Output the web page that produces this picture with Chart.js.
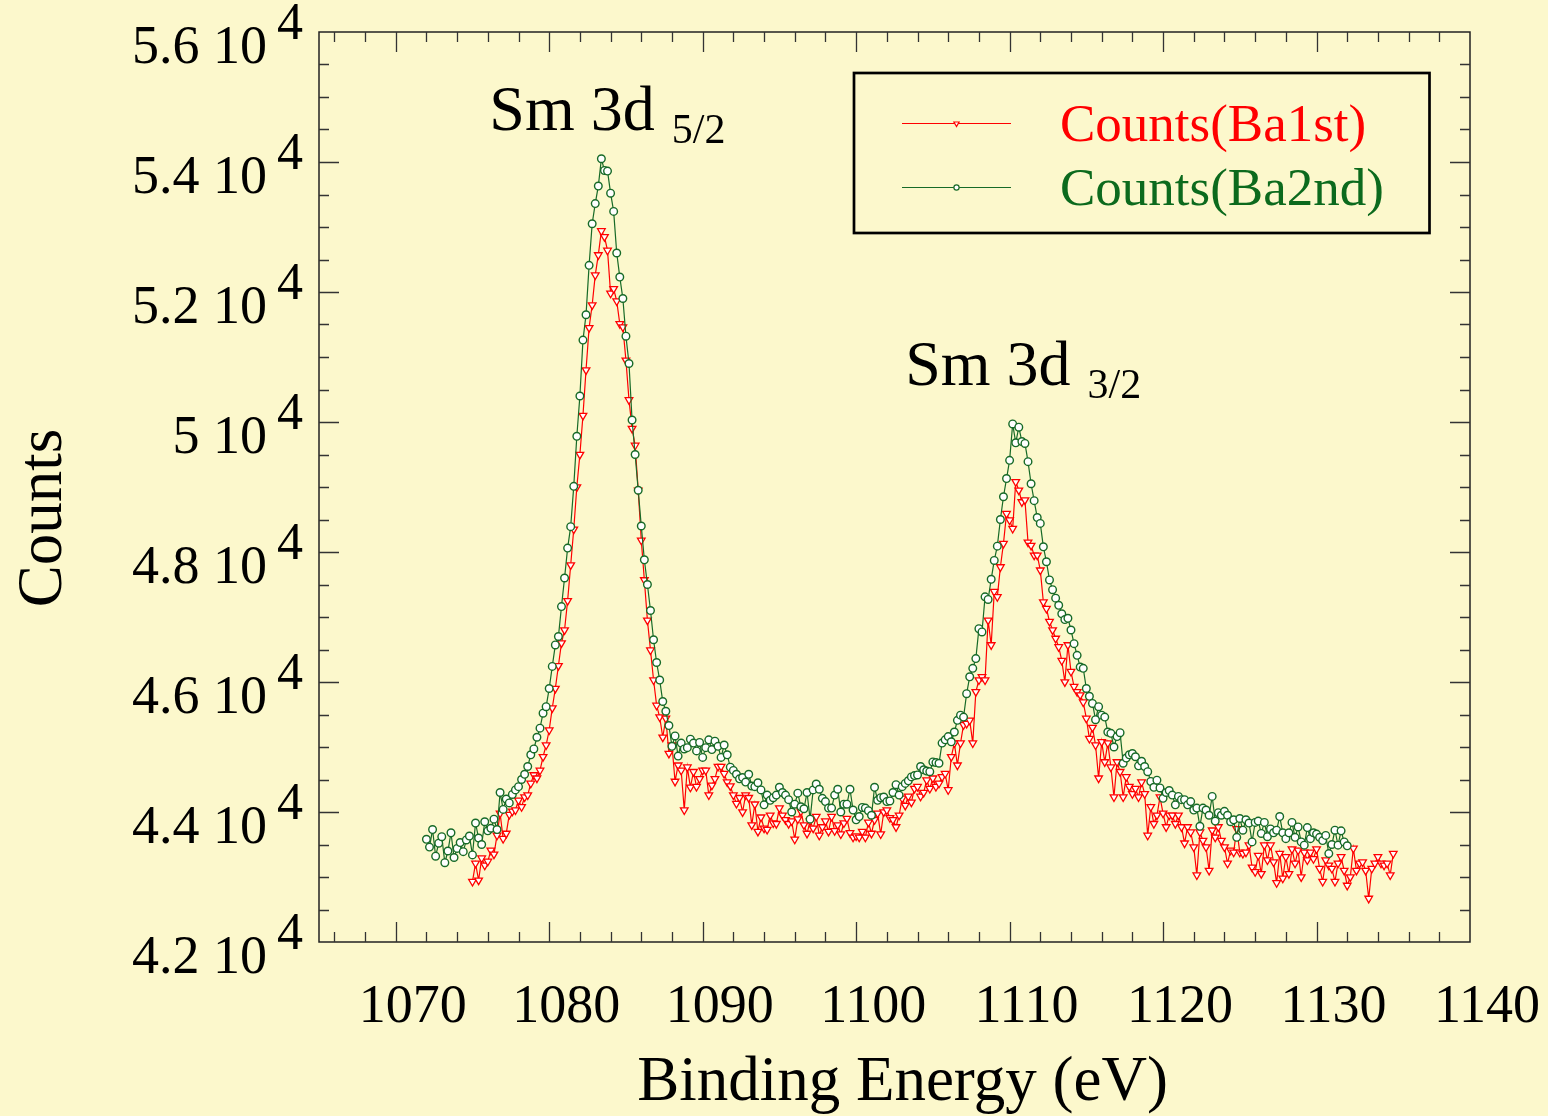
<!DOCTYPE html>
<html>
<head>
<meta charset="utf-8">
<title>Sm 3d XPS</title>
<script src="https://cdn.jsdelivr.net/npm/chart.js@4.4.1/dist/chart.umd.min.js"></script>
<style>
html, body { margin: 0; padding: 0; background: #fcf8cc; }
#wrap { width: 1548px; height: 1116px; }
</style>
</head>
<body>
<div id="wrap"><canvas id="chart" width="1548" height="1116"></canvas></div>
<script>
// energy grid of the two scans (eV)
var ba1stStart = 1075.0;
var ba2ndStart = 1072.0;
var stepEV = 0.2;

// Counts(Ba1st), 1075.0 .. 1135.0 eV
var countsBa1st = [
    42930, 43210, 42950, 43290, 43180, 43240, 43410, 43350, 43640, 43980,
    43590, 43670, 43960, 44010, 44030, 44180, 44080, 44230, 44260, 44440,
    44570, 44520, 44640, 44850, 45030, 45260, 45600, 45900, 46250, 46600,
    46800, 47250, 47800, 48350, 49000, 49500, 50100, 50800, 51450, 51800,
    52260, 52570, 52940, 52850, 52640, 51980, 52050, 51860, 51510, 51460,
    50950, 50340, 49900, 49640, 48950, 48180, 47570, 46950, 46490, 46030,
    45640, 45460, 45150, 45440, 44900, 45030, 44470, 44720, 44640, 44030,
    44690, 44380, 44620, 44390, 44510, 44640, 44640, 44260, 44410, 44510,
    44700, 44700, 44590, 44460, 44400, 44260, 44130, 44220, 44000, 44260,
    44220, 43800, 44120, 43700, 43920, 43750, 43730, 43950, 43830, 43820,
    44060, 43950, 43880, 43820, 43860, 43580, 43890, 44010, 43800, 43670,
    43860, 43750, 43930, 43640, 43770, 43860, 43700, 43930, 43710, 43800,
    43660, 43830, 43900, 43680, 43610, 43630, 43610, 43700, 43610, 43840,
    43670, 43880, 43980, 43660, 44000, 44030, 43910, 43880, 43770, 43950,
    44210, 44100, 44240, 44150, 44360, 44390, 44240, 44300, 44490, 44360,
    44520, 44390, 44440, 44540, 44590, 44340, 44850, 45060, 44720, 45060,
    45340, 45360, 45410, 45060, 45850, 46030, 46080, 46030, 46950, 46570,
    47390, 47310, 47770, 48130, 48590, 48490, 48360, 49080, 48950, 48770,
    48800, 48150, 48100, 47950, 47950, 47720, 47230, 47130, 46930, 46800,
    46670, 46540, 46330, 46000, 46570, 46160, 45930, 45850, 45800, 45690,
    45440, 45130, 45300, 45030, 44520, 45080, 44770, 45060, 44690, 44230,
    44770, 44620, 44230, 44540, 44390, 44280, 44360, 44230, 44460, 44280,
    43640, 44080, 43820, 43950, 44230, 43980, 43770, 43950, 43950, 43820,
    43950, 43770, 43520, 43770, 43690, 43460, 43030, 43690, 43560, 43460,
    43100, 43720, 43610, 43770, 43560, 43460, 43210, 43410, 43380, 43740,
    43380, 43360, 43380, 43490, 43150, 43080, 43330, 43050, 43490, 43260,
    43490, 43230, 42910, 43360, 42980, 43310, 43050, 43430, 43210, 43410,
    43000, 43380, 43260, 43380, 43280, 43430, 43130, 42930, 43260, 43180,
    43130, 42930, 43210, 43310, 43100, 42870, 43000, 43440, 43100, 43210,
    43230, 43100, 42670, 43130, 43210, 43310, 43210, 43180, 43210, 43030,
    43360
];

// Counts(Ba2nd), 1072.0 .. 1132.0 eV
var countsBa2nd = [
    43580, 43460, 43730, 43320, 43520, 43620, 43220, 43400, 43680, 43300,
    43440, 43530, 43390, 43570, 43630, 43340, 43830, 43600, 43500, 43850,
    43710, 43750, 43890, 43730, 44300, 44040, 44200, 44140, 44270, 44340,
    44390, 44500, 44580, 44700, 44880, 44970, 45150, 45290, 45520, 45620,
    45900, 46240, 46570, 46700, 47160, 47600, 48060, 48390, 49010, 49780,
    50400, 51260, 51650, 52410, 53050, 53360, 53630, 54050, 53870, 53860,
    53520, 53240, 52600, 52230, 51900, 51320, 50900, 50030, 49500, 48950,
    48400, 47880, 47500, 47100, 46650, 46300, 46030, 45700, 45550, 45330,
    45010, 45170, 44860, 45060, 44970, 44990, 45120, 45060, 44940, 45070,
    44840, 44990, 45110, 44960, 45090, 45010, 44840, 45030, 44880, 44690,
    44640, 44580, 44510, 44530, 44460, 44580, 44400, 44390, 44450, 44340,
    44110, 44260, 44180, 44220, 44260, 44380, 44300, 44260, 44190, 44000,
    44120, 44290, 44080, 44050, 44300, 43890, 44340, 44430, 44350, 44210,
    44160, 44060, 44060, 44260, 44350, 44000, 44120, 44120, 44350, 44030,
    43880, 43930, 44070, 44060, 44020, 43950, 44380, 44180, 44220, 44230,
    44160, 44170, 44300, 44420, 44260, 44390, 44440, 44480, 44540, 44560,
    44570, 44700, 44650, 44630, 44620, 44770, 44760, 44750, 45060, 45110,
    45160, 45080, 45230, 45410, 45490, 45460, 45820, 46080, 46210, 46360,
    46820, 46770, 47310, 47270, 47580, 47870, 48090, 48500, 48850, 49130,
    49410, 49970, 49680, 49920, 49700, 49670, 49390, 49050, 48790, 48530,
    48440, 48080, 47850, 47570, 47420, 47290, 47180, 47050, 46960, 46980,
    46800, 46590, 46410, 46230, 46210, 45900, 45780, 45670, 45420, 45620,
    45490, 45460, 45230, 45210, 45000, 45160, 45220, 44750, 44830, 44880,
    44900, 44850, 44710, 44780, 44700, 44620, 44470, 44380, 44490, 44370,
    44210, 44300, 44330, 44260, 44110, 44240, 44190, 44190, 44110, 44160,
    44030, 44060, 43780, 44060, 44030, 43950, 44240, 43860, 43990, 43950,
    44010, 43950, 43850, 43880, 43610, 43900, 43720, 43880, 43830, 43540,
    43840, 43860, 43670, 43840, 43620, 43740, 43680, 43720, 43930, 43680,
    43590, 43680, 43840, 43610, 43770, 43540, 43490, 43760, 43590, 43680,
    43660, 43610, 43560, 43640, 43360, 43500, 43720, 43490, 43710, 43540,
    43480
];

var seriesNames = ['Counts(Ba1st)', 'Counts(Ba2nd)'];
var xTicks = [1070, 1080, 1090, 1100, 1110, 1120, 1130, 1140];
var xTickLabels = ['1070', '1080', '1090', '1100', '1110', '1120', '1130', '1140'];
var yTicks = [42000, 44000, 46000, 48000, 50000, 52000, 54000, 56000];
var yTickLabels = ['4.2 10', '4.4 10', '4.6 10', '4.8 10', '5 10', '5.2 10', '5.4 10', '5.6 10'];
var yTickExponent = '4';
var peakNames = ['Sm 3d', 'Sm 3d'];
var peakSubs = ['5/2', '3/2'];

function toPoints(start, values) {
    return values.map(function(v, i) {
        return { x: Math.round((start + i * stepEV) * 10) / 10, y: v };
    });
}

var SERIF = '"Liberation Serif", "Times New Roman", serif';
var RED = '#ff0000';
var GREEN = '#176a27';

var decorPlugin = {
    id: 'decor',
    beforeDraw: function(chart) {
        var ctx = chart.ctx;
        ctx.save();
        ctx.fillStyle = '#fcf8cc';
        ctx.fillRect(0, 0, chart.width, chart.height);
        ctx.restore();
    },
    afterDraw: function(chart) {
        var ctx = chart.ctx;
        var a = chart.chartArea;
        var xs = chart.scales.x;
        var ys = chart.scales.y;
        var v, p, len;
        ctx.save();

        // frame
        ctx.strokeStyle = '#222';
        ctx.lineWidth = 1.5;
        ctx.strokeRect(a.left, a.top, a.right - a.left, a.bottom - a.top);

        // inward ticks on all four sides
        ctx.lineWidth = 1.3;
        ctx.strokeStyle = '#333';
        ctx.beginPath();
        for (v = 1066; v <= 1138; v += 2) {
            p = Math.round(xs.getPixelForValue(v)) + 0.5;
            len = v % 10 === 0 ? 20 : 10;
            ctx.moveTo(p, a.bottom); ctx.lineTo(p, a.bottom - len);
            ctx.moveTo(p, a.top); ctx.lineTo(p, a.top + len);
        }
        for (v = 42500; v <= 55500; v += 500) {
            p = Math.round(ys.getPixelForValue(v)) + 0.5;
            len = v % 2000 === 0 ? 20 : 10;
            ctx.moveTo(a.left, p); ctx.lineTo(a.left + len, p);
            ctx.moveTo(a.right, p); ctx.lineTo(a.right - len, p);
        }
        ctx.stroke();

        // tick labels
        ctx.fillStyle = '#000';
        ctx.font = '54px ' + SERIF;
        ctx.textAlign = 'center';
        ctx.textBaseline = 'alphabetic';
        xTicks.forEach(function(t, i) {
            ctx.fillText(xTickLabels[i], xs.getPixelForValue(t) + 17, 1022);
        });
        yTicks.forEach(function(t, i) {
            var py = ys.getPixelForValue(t);
            ctx.font = '54px ' + SERIF;
            ctx.textAlign = 'right';
            ctx.fillText(yTickLabels[i], 267, py + 31);
            ctx.font = '52px ' + SERIF;
            ctx.textAlign = 'left';
            ctx.fillText(yTickExponent, 277, py + 7);
        });

        // axis titles
        ctx.font = '63px ' + SERIF;
        ctx.textAlign = 'center';
        ctx.fillText('Binding Energy (eV)', (a.left + a.right) / 2 + 8, 1100);
        ctx.save();
        ctx.translate(61, 518);
        ctx.rotate(-Math.PI / 2);
        ctx.fillText('Counts', 0, 0);
        ctx.restore();

        // peak annotations
        var anchors = [[1076.1, 54490, 13], [1103.2, 50570, 13]];
        ctx.textAlign = 'left';
        anchors.forEach(function(an, i) {
            var px = xs.getPixelForValue(an[0]);
            var py = ys.getPixelForValue(an[1]);
            ctx.font = '64px ' + SERIF;
            ctx.fillText(peakNames[i], px, py);
            var w = ctx.measureText(peakNames[i]).width;
            ctx.font = '42px ' + SERIF;
            ctx.fillText(peakSubs[i], px + w + 17, py + an[2]);
        });

        // legend box
        ctx.strokeStyle = '#000';
        ctx.lineWidth = 2.7;
        ctx.strokeRect(854, 73, 575.5, 160);
        var rows = [
            { y: 123.5, color: RED, text: RED, style: 'triangle', rot: 180, r: 3 },
            { y: 187.5, color: GREEN, text: '#0c6a1d', style: 'circle', rot: 0, r: 2.6 }
        ];
        rows.forEach(function(row, i) {
            ctx.strokeStyle = row.color;
            ctx.lineWidth = 1.2;
            ctx.beginPath();
            ctx.moveTo(902, row.y); ctx.lineTo(1011, row.y);
            ctx.stroke();
            ctx.fillStyle = '#ffffff';
            Chart.helpers.drawPoint(ctx, {
                pointStyle: row.style, radius: row.r, rotation: row.rot, borderWidth: 1.2
            }, 956.5, row.y);
            ctx.fillStyle = row.text;
            ctx.font = '53px ' + SERIF;
            ctx.textAlign = 'left';
            ctx.fillText(seriesNames[i], 1060, row.y + 17);
        });
        ctx.restore();
    }
};

var chart = new Chart(document.getElementById('chart').getContext('2d'), {
    type: 'scatter',
    data: {
        datasets: [
            {
                label: seriesNames[0],
                data: toPoints(ba1stStart, countsBa1st),
                showLine: true,
                borderColor: RED,
                borderWidth: 1.2,
                pointStyle: 'triangle',
                rotation: 180,
                pointRadius: 4.4,
                pointBorderWidth: 1.3,
                pointBorderColor: RED,
                pointBackgroundColor: '#ffffff',
                order: 2
            },
            {
                label: seriesNames[1],
                data: toPoints(ba2ndStart, countsBa2nd),
                showLine: true,
                borderColor: GREEN,
                borderWidth: 1.2,
                pointStyle: 'circle',
                pointRadius: 3.8,
                pointBorderWidth: 1.4,
                pointBorderColor: GREEN,
                pointBackgroundColor: '#ffffff',
                order: 1
            }
        ]
    },
    options: {
        responsive: false,
        devicePixelRatio: 1,
        animation: false,
        layout: { padding: { left: 319, right: 78, top: 32, bottom: 174 } },
        scales: {
            x: { type: 'linear', min: 1065, max: 1140, display: false },
            y: { type: 'linear', min: 42000, max: 56000, display: false }
        },
        plugins: {
            legend: { display: false },
            tooltip: { enabled: false }
        }
    },
    plugins: [decorPlugin]
});
</script>
</body>
</html>
